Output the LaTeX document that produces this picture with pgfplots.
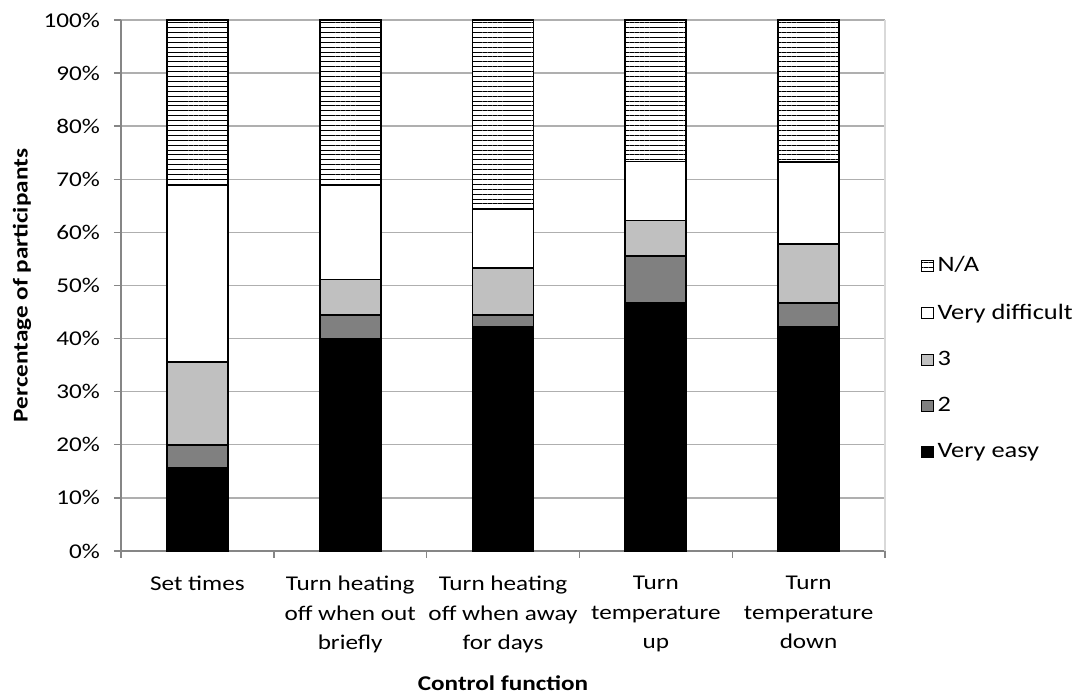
\documentclass[border=0pt]{standalone}
\usepackage{fontspec}
\setmainfont{Carlito}[FakeStretch=1.2]
\usepackage{pgfplots}
\usepackage{pgfplotstable}
\pgfplotsset{compat=1.18}
\usetikzlibrary{patterns.meta}
\definecolor{gridc}{RGB}{175,175,175}
\definecolor{axisc}{RGB}{134,134,134}
\definecolor{borderc}{RGB}{217,217,217}
\definecolor{midgray}{RGB}{128,128,128}
\definecolor{lightg}{RGB}{192,192,192}

\pgfplotstableread{
x easy two three hard na
0 15.56 4.44 15.56 33.33 31.11
1 40.00 4.44 6.67 17.78 31.11
2 42.22 2.22 8.89 11.11 35.56
3 46.67 8.89 6.67 11.11 26.66
4 42.22 4.44 11.11 15.56 26.67
}\data

\begin{document}
\begin{tikzpicture}[font=\fontsize{10.5}{12.6}\selectfont]
\begin{axis}[
  scale only axis,
  width=382pt, height=265.5pt,
  ybar stacked,
  bar width=0.4,
  xmin=-0.5, xmax=4.5,
  ymin=0, ymax=100,
  axis lines=left,
  axis line style={-, draw=axisc, line width=0.7pt},
  tick align=outside,
  ytick={0,10,...,100},
  yticklabel={\pgfmathprintnumber{\tick}\%},
  /pgf/number format/assume math mode=true,
  ymajorgrids,
  grid style={draw=gridc, line width=0.7pt},
  major tick length=3.5pt,
  minor tick length=3.5pt,
  y tick style={draw=axisc, line width=0.7pt},
  xtick={0,1,2,3,4},
  major x tick style={draw=none},
  minor xtick={-0.5,0.5,...,4.5},
  minor x tick style={draw=axisc, line width=0.7pt},
  xticklabels={Set times, {Turn heating\\off when out\\briefly}, {Turn heating\\off when away\\for days}, {Turn\\temperature\\up}, {Turn\\temperature\\down}},
  xticklabel style={align=center, font=\fontsize{10.5}{14.75}\selectfont, yshift=-5.5pt},
  yticklabel style={font=\fontsize{10.5}{12.6}\selectfont, xshift=-3.5pt},
  xlabel={Control function},
  ylabel={Percentage of participants},
  label style={font=\bfseries\fontsize{10.5}{12.6}\selectfont},
  xlabel style={at={(axis description cs:0.5,-0.2486)}, anchor=center},
  ylabel style={at={(axis description cs:-0.1296,0.5)}, anchor=center},
  every axis plot/.append style={draw=black, line width=0.9pt},
  reverse legend,
  legend style={draw=none, fill=none, at={(axis description cs:1.047,0.362)}, anchor=west,
    font=\fontsize{11}{13}\selectfont, row sep=10.5pt, inner sep=0pt},
  legend cell align=left,
  legend image code/.code={\draw[#1, line width=0.5pt] (0pt,-2.8pt) rectangle (5.6pt,2.8pt);},
  clip=false,
]
\addplot[fill=black] table[x=x, y=easy] {\data};
\addplot[fill=midgray] table[x=x, y=two] {\data};
\addplot[fill=lightg] table[x=x, y=three] {\data};
\addplot[fill=white] table[x=x, y=hard] {\data};
\addplot[fill=white, postaction={pattern={Lines[angle=0, distance=2.45pt, line width=0.5pt]}}] table[x=x, y=na] {\data};
\legend{Very easy, 2, 3, Very difficult, N/A}
\draw[draw=borderc, line width=0.7pt] (rel axis cs:1,0) -- (rel axis cs:1,1);
\coordinate (sw) at (rel axis cs:0,0);
\end{axis}
\pgfresetboundingbox
\path[use as bounding box] (sw) ++(-60.5pt,-71.5pt) rectangle ++(542.5pt,347pt);
\end{tikzpicture}
\end{document}
